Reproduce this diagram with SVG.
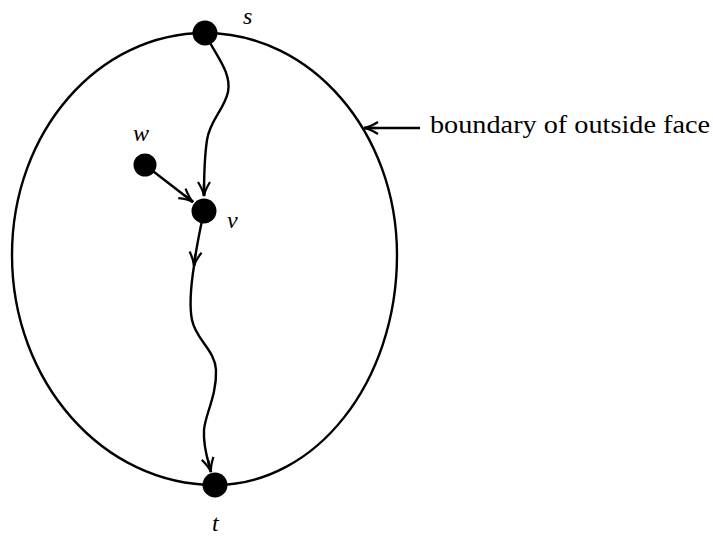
<svg xmlns="http://www.w3.org/2000/svg" width="713" height="547" viewBox="0 0 713 547">
<style>
.edge{fill:none;stroke:#000;stroke-width:2.4}
.node{fill:#000}
.lbl{font-family:"Liberation Serif",serif;font-style:italic;font-size:24px;fill:#000}
.txt{font-family:"Liberation Serif",serif;font-size:25px;fill:#000}
</style>
<defs>
<marker id="ah" markerUnits="userSpaceOnUse" markerWidth="20" markerHeight="16" viewBox="-16 -8 20 16" refX="0" refY="0" orient="auto">
<path d="M-14,-6 Q-6,-1 0,0 Q-6,1 -14,6" fill="none" stroke="#000" stroke-width="2.2"/>
<path d="M-12,0 L0,0" stroke="#000" stroke-width="2.4"/>
</marker>
</defs>
<rect width="713" height="547" fill="#fff"/>
<g id="connectors">
<path id="outer" class="edge" d="M205,33 C311,33 397,132 397,255 C397,382 316,485 215,485 C103,485 12,382 12,255 C12,132 98,33 205,33 Z"/>
<path id="s-v" class="edge" marker-end="url(#ah)" d="M205,33 C215,55 232,72 228,92 C224,110 210,120 207,140 C204,160 204,175 204,196"/>
<path id="w-v" class="edge" marker-end="url(#ah)" d="M145,165 L193,202"/>
<path id="v-mid" class="edge" marker-end="url(#ah)" d="M204,211 C200,230 196,248 194,266"/>
<path id="mid-t" class="edge" d="M194,266 C191,285 189,305 192,320 C196,340 215,350 216,370 C217,395 205,415 204,430 C203,448 208,460 211,472" marker-end="url(#ah)"/>
<path id="label-arrow" class="edge" marker-end="url(#ah)" d="M420,128 L364,128"/>
</g>
<g id="s"><circle class="node" cx="205" cy="33" r="12.5"/><text class="lbl" x="243" y="24">s</text></g>
<g id="w"><circle class="node" cx="145" cy="165" r="11.5"/><text class="lbl" x="133" y="141">w</text></g>
<g id="v"><circle class="node" cx="204" cy="211" r="12.5"/><text class="lbl" x="227" y="228">v</text></g>
<g id="t"><circle class="node" cx="215" cy="485" r="12.5"/><text class="lbl" x="212" y="531">t</text></g>
<g id="label"><text class="txt" x="430" y="133" textLength="280" lengthAdjust="spacingAndGlyphs">boundary of outside face</text></g>
</svg>
